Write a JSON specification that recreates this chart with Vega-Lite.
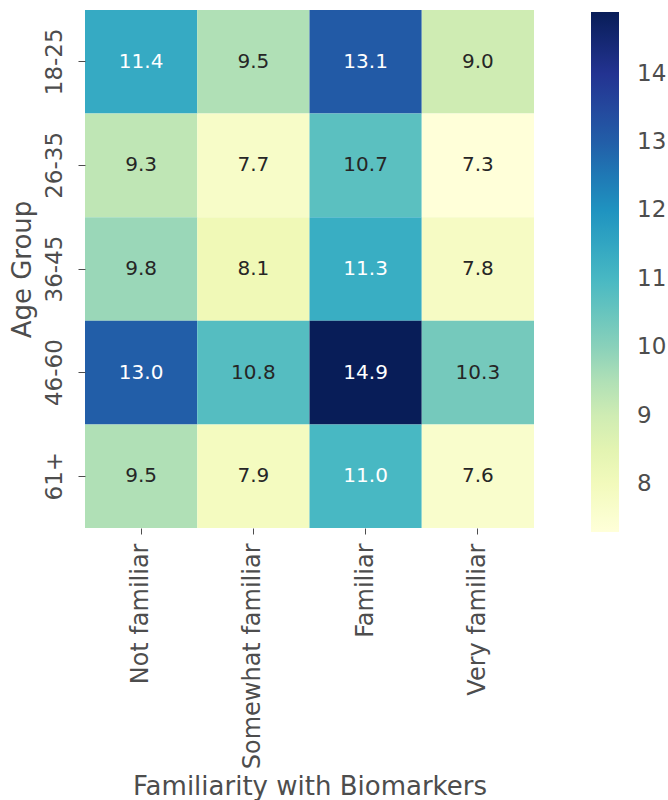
{
  "$schema": "https://vega.github.io/schema/vega-lite/v6.json",
  "width": 449,
  "height": 518,
  "autosize": "none",
  "padding": {"left": 85, "top": 10, "right": 134, "bottom": 272},
  "background": "white",
  "config": {
    "font": "DejaVu Sans",
    "view": {"stroke": null},
    "axis": {"labelColor": "#4d4d4d", "titleColor": "#4d4d4d", "tickColor": "#4d4d4d", "domain": false, "grid": false, "labelLimit": 400}
  },
  "data": {
    "values": [
      {"age": "18-25", "fam": "Not familiar", "value": 11.4},
      {"age": "18-25", "fam": "Somewhat familiar", "value": 9.5},
      {"age": "18-25", "fam": "Familiar", "value": 13.1},
      {"age": "18-25", "fam": "Very familiar", "value": 9.0},
      {"age": "26-35", "fam": "Not familiar", "value": 9.3},
      {"age": "26-35", "fam": "Somewhat familiar", "value": 7.7},
      {"age": "26-35", "fam": "Familiar", "value": 10.7},
      {"age": "26-35", "fam": "Very familiar", "value": 7.3},
      {"age": "36-45", "fam": "Not familiar", "value": 9.8},
      {"age": "36-45", "fam": "Somewhat familiar", "value": 8.1},
      {"age": "36-45", "fam": "Familiar", "value": 11.3},
      {"age": "36-45", "fam": "Very familiar", "value": 7.8},
      {"age": "46-60", "fam": "Not familiar", "value": 13.0},
      {"age": "46-60", "fam": "Somewhat familiar", "value": 10.8},
      {"age": "46-60", "fam": "Familiar", "value": 14.9},
      {"age": "46-60", "fam": "Very familiar", "value": 10.3},
      {"age": "61+", "fam": "Not familiar", "value": 9.5},
      {"age": "61+", "fam": "Somewhat familiar", "value": 7.9},
      {"age": "61+", "fam": "Familiar", "value": 11.0},
      {"age": "61+", "fam": "Very familiar", "value": 7.6}
    ]
  },
  "encoding": {
    "x": {
      "field": "fam",
      "type": "nominal",
      "sort": ["Not familiar", "Somewhat familiar", "Familiar", "Very familiar"],
      "scale": {"paddingInner": 0, "paddingOuter": 0},
      "axis": {
        "title": "Familiarity with Biomarkers",
        "titleFontSize": 26,
        "titleFontWeight": "normal",
        "titleBaseline": "alphabetic",
        "titleY": 266,
        "labelAngle": -90,
        "labelFontSize": 24,
        "labelPadding": 9,
        "tickSize": 6
      }
    },
    "y": {
      "field": "age",
      "type": "nominal",
      "sort": ["18-25", "26-35", "36-45", "46-60", "61+"],
      "scale": {"paddingInner": 0, "paddingOuter": 0},
      "axis": {
        "title": "Age Group",
        "titleFontSize": 26,
        "titleFontWeight": "normal",
        "titlePadding": 8,
        "labelAngle": -90,
        "labelFontSize": 23,
        "labelPadding": 12,
        "tickSize": 7
      }
    }
  },
  "layer": [
    {
      "mark": {"type": "rect"},
      "encoding": {
        "color": {
          "field": "value",
          "type": "quantitative",
          "scale": {
            "domain": [7.3, 8.25, 9.2, 10.15, 11.1, 12.05, 13.0, 13.95, 14.9],
            "range": ["#ffffd9", "#edf8b1", "#c7e9b4", "#7fcdbb", "#41b6c4", "#1d91c0", "#225ea8", "#253494", "#081d58"],
            "interpolate": "rgb"
          },
          "legend": {
            "title": null,
            "orient": "none",
            "legendX": 506,
            "legendY": 2,
            "direction": "vertical",
            "gradientLength": 520,
            "gradientThickness": 28,
            "gradientStrokeWidth": 0,
            "values": [8, 9, 10, 11, 12, 13, 14],
            "labelFontSize": 23,
            "labelColor": "#4d4d4d",
            "labelOffset": 18
          }
        }
      }
    },
    {
      "mark": {"type": "text", "fontSize": 20},
      "encoding": {
        "text": {"field": "value", "type": "quantitative", "format": ".1f"},
        "color": {
          "condition": {"test": "datum.value >= 11", "value": "#ffffff"},
          "value": "#262626"
        }
      }
    }
  ]
}
